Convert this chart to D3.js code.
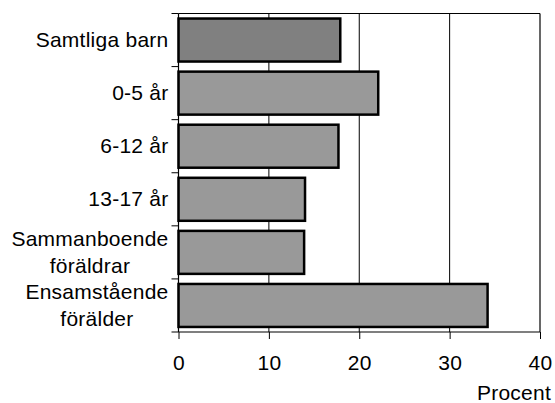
<!DOCTYPE html>
<html>
<head>
<meta charset="utf-8">
<script src="https://cdn.jsdelivr.net/npm/d3@7"></script>
<style>
  html, body { margin: 0; padding: 0; background: #fff; }
  text { font-family: "Liberation Sans", Arial, sans-serif; font-size: 21px; letter-spacing: 0.25px; fill: #000; }
</style>
</head>
<body>
<svg id="chart" width="555" height="403"></svg>
<script>
const categories = ["Samtliga barn", "0-5 år", "6-12 år", "13-17 år", "Sammanboende\nföräldrar", "Ensamstående\nförälder"];
const values = [17.9, 22.1, 17.7, 14.0, 13.9, 34.2];
const fills = ["#808080", "#999999", "#999999", "#999999", "#999999", "#999999"];
const xTicks = [0, 10, 20, 30, 40];
const xTitle = "Procent";

const svg = d3.select("#chart");
const L = 178.5, R = 540, T = 13.5, B = 332;

const x = d3.scaleLinear().domain([0, 40]).range([L, R]);
const y = d3.scaleBand().domain(categories).range([T, B]).padding(0);
const bw = y.bandwidth();
const barH = bw * 0.81;

// gridlines
svg.append("g").selectAll("line").data(xTicks.filter(t => t > 0 && t < 40)).join("line")
  .attr("x1", d => x(d)).attr("x2", d => x(d))
  .attr("y1", T).attr("y2", B)
  .attr("stroke", "#000").attr("stroke-width", 1);

// frame top & right
svg.append("line").attr("x1", L).attr("x2", R).attr("y1", T).attr("y2", T).attr("stroke", "#000").attr("stroke-width", 1.2);
svg.append("line").attr("x1", R).attr("x2", R).attr("y1", T).attr("y2", B).attr("stroke", "#000").attr("stroke-width", 1.2);

// bars
svg.append("g").selectAll("rect").data(categories).join("rect")
  .attr("x", x(0))
  .attr("y", d => y(d) + (bw - barH) / 2)
  .attr("width", (d, i) => x(values[i]) - x(0))
  .attr("height", barH)
  .attr("fill", (d, i) => fills[i])
  .attr("stroke", "#000").attr("stroke-width", 2.5);

// x axis
const xAxis = d3.axisBottom(x).tickValues(xTicks).tickSize(7).tickPadding(10).tickFormat(d3.format("d"));
const gx = svg.append("g").attr("transform", `translate(0,${B})`).call(xAxis);
gx.select(".domain").attr("stroke", "#000").attr("stroke-width", 1.2).attr("d", `M${L},0H${R}`);
gx.selectAll(".tick line").attr("stroke", "#000").attr("stroke-width", 1);
gx.selectAll(".tick text").attr("font-size", 21).attr("font-family", null).attr("dy", null).attr("y", 37.5);

// y axis line + ticks at band boundaries
svg.append("line").attr("x1", L).attr("x2", L).attr("y1", T).attr("y2", B).attr("stroke", "#000").attr("stroke-width", 1.2);
const bounds = categories.map(c => y(c)).concat([B]);
svg.append("g").selectAll("line").data(bounds).join("line")
  .attr("x1", L - 7).attr("x2", L)
  .attr("y1", d => d).attr("y2", d => d)
  .attr("stroke", "#000").attr("stroke-width", 1);

// y labels
const labelRight = 168.5;
const lineH = 26.5;
categories.forEach((c, i) => {
  const lines = c.split("\n");
  const cy = y(c) + bw / 2;
  const g = svg.append("g");
  const texts = lines.map((ln, j) => g.append("text")
    .attr("y", cy + 7 + (j - (lines.length - 1) / 2) * lineH)
    .text(ln));
  const widths = texts.map(t => t.node().getComputedTextLength());
  const maxW = Math.max(...widths);
  const center = labelRight - maxW / 2;
  texts.forEach(t => t.attr("x", center).attr("text-anchor", "middle"));
});

// x title
svg.append("text").attr("x", 551).attr("y", 399.5).attr("text-anchor", "end").text(xTitle);
</script>
</body>
</html>
